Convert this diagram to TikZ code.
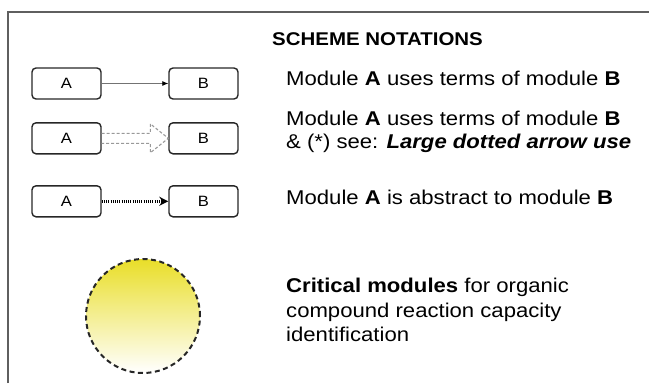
\documentclass[tikz,border=0pt]{standalone}
\usepackage{fontspec}
\setmainfont{Liberation Sans}
\newfontfamily\notefont[FakeStretch=1.11]{Liberation Sans}
\usetikzlibrary{arrows.meta,calc}

\definecolor{framegray}{RGB}{95,95,95}
\definecolor{crityellow}{RGB}{233,222,40}

\tikzset{
  modbox/.style={draw=black!85, line width=1.4bp, rounded corners=4bp,
    minimum width=69bp, minimum height=31bp, inner sep=0pt,
    font=\notefont\fontsize{15}{15}\selectfont},
  heading/.style={anchor=base west, inner sep=0pt,
    font=\notefont\bfseries\fontsize{18.5}{18.5}\selectfont},
  note/.style={anchor=base west, inner sep=0pt,
    font=\notefont\fontsize{20}{20}\selectfont},
  usesline/.style={draw=black!55, line width=0.8bp,
    -{Latex[length=6bp,width=5bp,color=black]}},
  usesbig/.style={draw=black!40, line width=1.1bp,
    dash pattern=on 3bp off 2bp, line join=miter},
  abstractline/.style={draw=black, line width=2.4bp,
    dash pattern=on 1.1bp off 1.1bp,
    -{Stealth[length=9bp,width=9bp]}},
  critical/.style={circle, minimum size=114bp, inner sep=0pt,
    draw=black!85, line width=2bp, dash pattern=on 5bp off 3.5bp,
    top color=crityellow, bottom color=white}
}

\begin{document}
\begin{tikzpicture}[x=1bp, y=-1bp]
\useasboundingbox (0,0) rectangle (649,383);

% frame along the top and left edges
\draw[framegray, line width=2bp] (8,383) -- (8,12) -- (649,12);

% legend boxes
\node[modbox] (a1) at (66.5,83.5) {A};
\node[modbox] (b1) at (203.5,83.5) {B};
\node[modbox] (a2) at (66.5,138.3) {A};
\node[modbox] (b2) at (203.5,138.3) {B};
\node[modbox] (a3) at (66.5,201.3) {A};
\node[modbox] (b3) at (203.5,201.3) {B};

% plain arrow
\draw[usesline] (a1) -- (b1);

% large hollow dotted arrow
\draw[usesbig]
  ($(a2.east)+(0,-5)$) -- ($(b2.west)+(-18,-5)$) -- ($(b2.west)+(-18,-14.5)$)
  -- (b2.west)
  -- ($(b2.west)+(-18,14.5)$) -- ($(b2.west)+(-18,5)$) -- ($(a2.east)+(0,5)$);

% dotted arrow
\draw[abstractline] (a3) -- (b3);

% critical module marker
\node[critical] (crit) at (143,316) {};

% explanations
\node[heading] (title) at (272,45) {SCHEME NOTATIONS};
\node[note] (t1) at (286,85) {Module \textbf{A} uses terms of module \textbf{B}};
\node[note] (t2) at (286,125) {Module \textbf{A} uses terms of module \textbf{B}};
\node[note] (t2b) at (286,148) {\& (*) see: \textbf{\textit{Large dotted arrow use}}};
\node[note] (t3) at (286,204) {Module \textbf{A} is abstract to module \textbf{B}};
\node[note] (t4) at (286,292.7) {\textbf{Critical modules} for organic};
\node[note] (t4b) at (286,317) {compound reaction capacity};
\node[note] (t4c) at (286,341) {identification};
\end{tikzpicture}
\end{document}
